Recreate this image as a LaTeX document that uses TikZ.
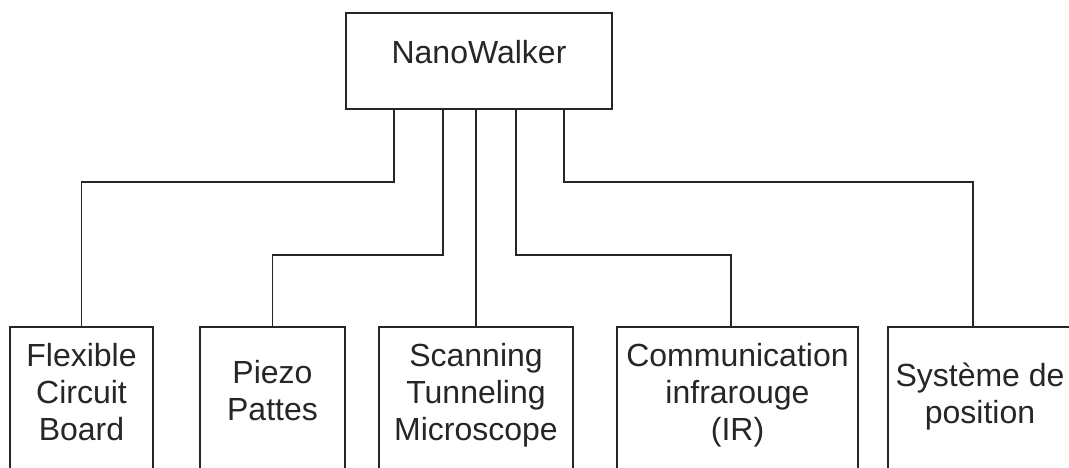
\documentclass[tikz,border=0pt]{standalone}
\usepackage{fontspec}
\setmainfont{Liberation Sans}
\begin{document}
\begin{tikzpicture}[x=1pt,y=-1pt,line width=1.2pt,
  box/.style={draw=black!85,rectangle,inner sep=0pt,outer sep=0pt,anchor=north west},
  lbl/.style={font=\fontsize{32}{36.7}\selectfont,align=center,anchor=base,inner sep=0pt,text=black!85},
  wire/.style={draw=black!85}]
\useasboundingbox (0,0) rectangle (1069,468);
\clip (0,0) rectangle (1069,468);
% boxes
\node[box,minimum width=266pt,minimum height=96pt] (top) at (346,13) {};
\node[box,minimum width=143pt,minimum height=200pt] (fcb) at (10,327) {};
\node[box,minimum width=145pt,minimum height=200pt] (pp) at (200,327) {};
\node[box,minimum width=194pt,minimum height=200pt] (stm) at (379,327) {};
\node[box,minimum width=241pt,minimum height=200pt] (cir) at (617,327) {};
\node[box,minimum width=240pt,minimum height=200pt] (sdp) at (888,327) {};
% labels (base = baseline of last line)
\node[lbl] (ttop) at (479,64) {NanoWalker};
\node[lbl] (tfcb) at (81.5,440) {Flexible\\Circuit\\Board};
\node[lbl] (tpp) at (272.5,420) {Piezo\\Pattes};
\node[lbl] (tstm) at (476,440) {Scanning\\Tunneling\\Microscope};
\node[lbl] (tcir) at (737.5,440) {Communication\\infrarouge\\(IR)};
\node[lbl] (tsdp) at (980,423) {Système de\\position};
% connectors
\draw[wire] ([xshift=-85pt]top.south) -- ++(0,73) -| (fcb.north);
\draw[wire] ([xshift=-36pt]top.south) -- ++(0,146) -| (pp.north);
\draw[wire] (stm.north |- top.south) -- (stm.north);
\draw[wire] ([xshift=37pt]top.south) -- ++(0,146) -| ([xshift=114pt]cir.north west);
\draw[wire] ([xshift=85pt]top.south) -- ++(0,73) -| ([xshift=85pt]sdp.north west);
\end{tikzpicture}
\end{document}
